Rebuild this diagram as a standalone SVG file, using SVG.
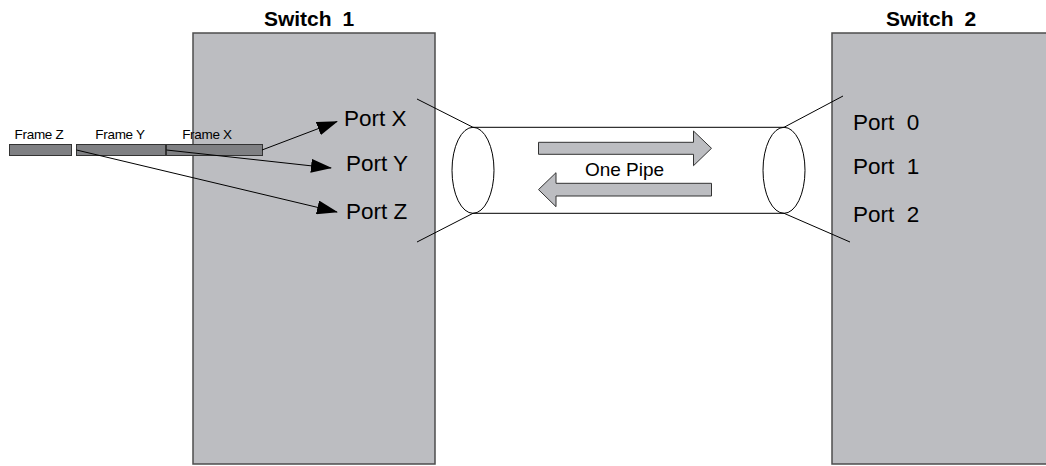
<svg xmlns="http://www.w3.org/2000/svg" width="1046" height="466" viewBox="0 0 1046 466">
<defs>
<style>
.sw{fill:#bcbdc1;stroke:#4d4d4d;stroke-width:1.5}
.title{font-family:"Liberation Sans",Arial,sans-serif;font-weight:bold;font-size:21px;fill:#000;text-anchor:middle;word-spacing:5px}
.port{font-family:"Liberation Sans",Arial,sans-serif;font-size:22.5px;fill:#000}
.frl{font-family:"Liberation Sans",Arial,sans-serif;font-size:13.5px;fill:#000;text-anchor:middle;letter-spacing:-0.3px}
.frame{fill:#7f8083;stroke:#333;stroke-width:1}
.ln{stroke:#000;stroke-width:1;fill:none}
.blk{fill:#bcbdc1;stroke:#333;stroke-width:1}
</style>
<marker id="ah" markerWidth="22" markerHeight="14" refX="20" refY="7" orient="auto" markerUnits="userSpaceOnUse">
<path d="M0,0 L21,7 L0,14 Z" fill="#000"/>
</marker>
</defs>
<rect width="1046" height="466" fill="#fff"/>
<g id="switch1">
<rect class="sw" x="193" y="33" width="242" height="431"/>
<text class="title" x="309" y="26">Switch 1</text>
</g>
<g id="switch2">
<rect class="sw" x="832" y="33" width="220" height="431"/>
<text class="title" x="931" y="26">Switch 2</text>
</g>
<g id="ports1">
<text class="port" x="344" y="126">Port X</text>
<text class="port" x="346" y="171">Port Y</text>
<text class="port" x="346" y="219">Port Z</text>
</g>
<g id="ports2">
<text class="port" x="853" y="130" xml:space="preserve">Port  0</text>
<text class="port" x="853" y="174" xml:space="preserve">Port  1</text>
<text class="port" x="853" y="222" xml:space="preserve">Port  2</text>
</g>
<g id="pipe">
<line class="ln" x1="473" y1="127.3" x2="784" y2="127.3"/>
<line class="ln" x1="473" y1="213.3" x2="784" y2="213.3"/>
<ellipse class="ln" cx="473" cy="170.3" rx="21" ry="43" fill="#fff"/>
<ellipse class="ln" cx="784" cy="170.3" rx="21" ry="43"/>
<line class="ln" x1="417" y1="99" x2="473" y2="127.3"/>
<line class="ln" x1="417" y1="242" x2="473" y2="213.3"/>
<line class="ln" x1="784" y1="127.3" x2="843" y2="96"/>
<line class="ln" x1="784" y1="213.3" x2="850" y2="242"/>
<path class="blk" d="M538.5,142.3 L693.5,142.3 L693.5,131 L711.5,148.3 L693.5,165.7 L693.5,154.3 L538.5,154.3 Z"/>
<path class="blk" d="M711.5,183.3 L556,183.3 L556,172.7 L538.5,189.6 L556,206.7 L556,196 L711.5,196 Z"/>
<text x="624.5" y="176" font-family="Liberation Sans, Arial, sans-serif" font-size="19" text-anchor="middle" fill="#000">One Pipe</text>
</g>
<g id="frames">
<rect class="frame" x="9.5" y="144.5" width="62" height="11"/>
<rect class="frame" x="76.5" y="144.5" width="89" height="11"/>
<rect class="frame" x="166.5" y="144.5" width="96" height="11"/>
<text class="frl" x="39" y="139">Frame Z</text>
<text class="frl" x="120" y="139">Frame Y</text>
<text class="frl" x="207" y="139">Frame X</text>
</g>
<g id="connectors">
<line class="ln" x1="262" y1="150" x2="337" y2="121.5" marker-end="url(#ah)"/>
<line class="ln" x1="166.5" y1="150" x2="331" y2="168" marker-end="url(#ah)"/>
<line class="ln" x1="76.5" y1="150" x2="337" y2="212" marker-end="url(#ah)"/>
</g>
</svg>
